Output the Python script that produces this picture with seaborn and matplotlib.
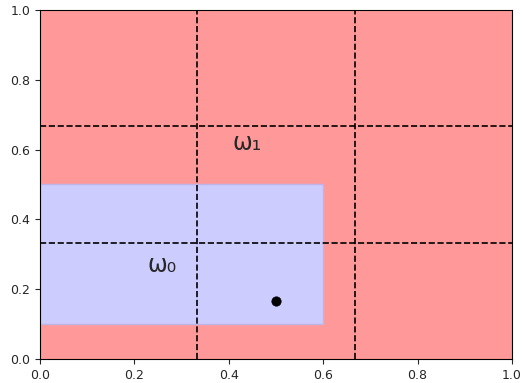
import matplotlib
matplotlib.use("Agg")
import matplotlib.pyplot as plt
import matplotlib.patches as mpatches
import seaborn as sns

# regions (x0, y0, width, height)
region_w1 = (0.0, 0.0, 1.0, 1.0)
region_w0 = (0.0, 0.1, 0.6, 0.4)
# grid lines
grid_x = [1 / 3, 2 / 3]
grid_y = [1 / 3, 2 / 3]
# query point
point_x = [0.5]
point_y = [1 / 6]
# labels
labels = ["ω₁", "ω₀"]
label_x = [0.44, 0.26]
label_y = [0.62, 0.27]


def main():
    sns.set_style("ticks")
    fig = plt.figure(figsize=(5.24, 3.83), dpi=100)
    ax = fig.add_axes([0.076, 0.063, 0.901, 0.911])

    ax.add_patch(mpatches.Rectangle(region_w1[:2], region_w1[2], region_w1[3],
                                    facecolor="#ff9999", edgecolor="none"))
    ax.add_patch(mpatches.Rectangle(region_w0[:2], region_w0[2], region_w0[3],
                                    facecolor="#ccccff", edgecolor="#c0b4e6", lw=1))

    for gx in grid_x:
        ax.axvline(gx, color="black", ls="--", lw=1.2)
    for gy in grid_y:
        ax.axhline(gy, color="black", ls="--", lw=1.2)

    sns.scatterplot(x=point_x, y=point_y, color="black", s=45, ax=ax, zorder=5,
                    edgecolor="black")

    for t, lx, ly in zip(labels, label_x, label_y):
        ax.text(lx, ly, t, fontsize=17, ha="center", va="center")

    ax.set_xlim(0, 1)
    ax.set_ylim(0, 1)
    ax.set_xticks([0, 0.2, 0.4, 0.6, 0.8, 1.0])
    ax.set_yticks([0, 0.2, 0.4, 0.6, 0.8, 1.0])
    ax.tick_params(labelsize=9)
    for s in ax.spines.values():
        s.set_visible(True)
        s.set_color("black")
        s.set_linewidth(0.8)

    fig.savefig("out.png", dpi=100)


if __name__ == "__main__":
    main()
